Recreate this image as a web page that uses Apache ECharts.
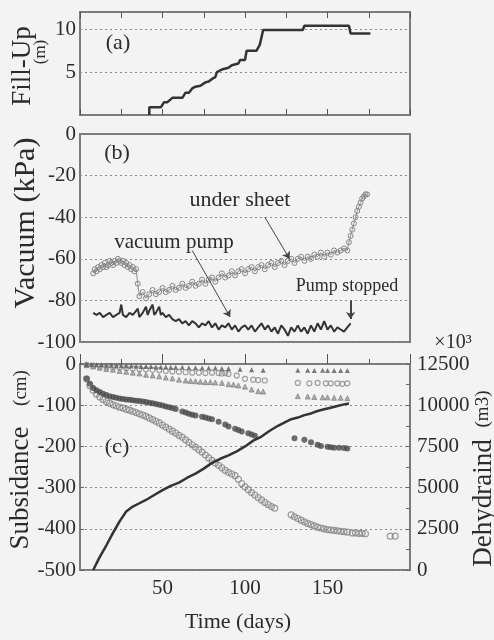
<!DOCTYPE html>
<html>
<head>
<meta charset="utf-8">
<script src="https://cdn.jsdelivr.net/npm/echarts@6/dist/echarts.min.js"></script>
<style>
  html, body { margin: 0; padding: 0; background: #f3f3f3; }
  #chart { width: 494px; height: 640px; }
</style>
</head>
<body>
<div id="chart"></div>
<script>
// (a) fill-up height, step trace [day, m]
const fillUp = [
  [42, 0], [42, 0.9], [49, 0.9], [51, 1.5], [53, 1.5], [56, 2.0], [62, 2.0], [64, 2.6],
  [66, 2.6], [68, 3.1], [70, 3.3], [73, 3.4], [76, 3.8], [78, 3.9], [80, 4.2], [82, 4.4],
  [83, 5.0], [86, 5.3], [90, 5.5], [92, 5.8], [96, 6.0], [97, 6.4], [100, 6.4], [101, 7.5],
  [107, 7.5], [109, 8.2], [111, 9.9], [135, 9.9], [136, 10.4], [163, 10.4], [164, 9.5], [176, 9.5]
];

// (b) vacuum under the sheet [day, kPa]
const underSheet = [
  [8, -67], [9, -65], [10, -66], [11, -64], [12, -65], [13, -63], [14, -64], [15, -62],
  [16, -64], [17, -63], [18, -61], [19, -62], [20, -63], [21, -61], [22, -62], [23, -60],
  [24, -61], [25, -62], [26, -61], [27, -63], [28, -62], [29, -64], [30, -63], [31, -65],
  [32, -64], [33, -66], [34, -65], [35, -72], [36, -78], [38, -76], [40, -79], [42, -77],
  [44, -75], [46, -77], [48, -76], [50, -74], [52, -76], [54, -75], [56, -73], [58, -75],
  [60, -74], [62, -72], [64, -74], [66, -73], [68, -71], [70, -73], [72, -72], [74, -70],
  [76, -72], [78, -70], [80, -69], [82, -71], [84, -69], [86, -67], [88, -69], [90, -68],
  [92, -66], [94, -68], [96, -66], [98, -65], [100, -67], [102, -65], [104, -64], [106, -66],
  [108, -64], [110, -63], [112, -65], [114, -63], [116, -62], [118, -64], [120, -62], [122, -61],
  [124, -63], [126, -61], [128, -60], [130, -62], [132, -60], [134, -59], [136, -61], [138, -59],
  [140, -60], [142, -58], [144, -59], [146, -57], [148, -59], [150, -57], [152, -58], [154, -56],
  [156, -57], [158, -56], [160, -55], [162, -56], [163, -52], [164, -49], [165, -46], [166, -43],
  [167, -40], [168, -37], [169, -35], [170, -33], [171, -31], [172, -30], [173, -29], [174, -29]
];

// (b) vacuum at the pump [day, kPa]
const vacuumPump = [
  [8, -86], [10, -87], [12, -86], [14, -88], [16, -87], [18, -86], [20, -88], [22, -87],
  [24, -86], [25, -82], [26, -87], [28, -88], [30, -86], [32, -87], [34, -85], [35, -84],
  [36, -88], [38, -86], [40, -83], [41, -87], [42, -85], [44, -82], [45, -87], [46, -86],
  [48, -83], [49, -87], [50, -86], [52, -88], [54, -87], [56, -89], [58, -90], [60, -89],
  [62, -91], [64, -90], [66, -92], [68, -90], [70, -91], [72, -93], [74, -91], [76, -92],
  [78, -90], [80, -93], [82, -91], [84, -94], [86, -92], [88, -93], [90, -91], [92, -94],
  [94, -92], [96, -95], [98, -93], [100, -92], [102, -94], [104, -92], [106, -95], [108, -93],
  [110, -91], [112, -94], [114, -92], [116, -95], [118, -93], [120, -96], [122, -92], [124, -94],
  [126, -97], [128, -93], [130, -95], [132, -92], [134, -95], [136, -93], [138, -96], [140, -92],
  [142, -95], [144, -91], [146, -94], [148, -90], [150, -94], [152, -92], [154, -95], [156, -93],
  [158, -94], [160, -95], [162, -93], [164, -91]
];

// (c) subsidence points [day, cm]
const subsDeep = [
  [4, -36], [6, -52], [8, -64], [10, -73], [12, -80], [14, -86], [16, -91], [18, -95],
  [20, -99], [22, -102], [24, -105], [26, -107], [28, -110], [30, -112], [32, -115], [34, -118],
  [36, -121], [38, -124], [40, -127], [42, -131], [44, -135], [46, -139], [48, -143], [50, -148],
  [52, -153], [54, -158], [56, -163], [58, -168], [60, -173], [62, -178], [64, -184], [66, -190],
  [68, -196], [70, -202], [72, -208], [74, -214], [76, -221], [78, -228], [80, -234], [82, -240],
  [84, -246], [86, -252], [88, -258], [90, -263], [92, -267], [94, -271], [96, -280], [98, -290],
  [100, -298], [102, -305], [104, -312], [106, -318], [108, -324], [110, -330], [112, -336], [114, -341],
  [116, -346], [118, -350], [128, -366], [130, -371], [132, -375], [134, -379], [136, -383], [138, -387],
  [140, -390], [142, -393], [144, -396], [146, -398], [148, -400], [150, -402], [152, -403], [154, -404],
  [156, -405], [158, -406], [160, -407], [162, -408], [165, -410], [167, -410], [169, -411], [171, -411],
  [173, -412], [188, -418], [191, -418]
];
const subsMid = [
  [4, -36], [6, -48], [8, -58], [10, -64], [12, -68], [14, -72], [16, -75], [18, -78],
  [20, -80], [22, -82], [24, -84], [26, -85], [28, -86], [30, -87], [32, -88], [34, -89],
  [36, -90], [38, -91], [40, -92], [42, -94], [44, -95], [46, -97], [48, -99], [50, -101],
  [52, -103], [54, -105], [56, -107], [58, -109], [62, -115], [64, -118], [66, -121], [68, -123],
  [70, -125], [74, -128], [76, -130], [78, -132], [80, -134], [84, -140], [88, -147], [90, -152],
  [94, -157], [96, -160], [98, -164], [102, -168], [104, -171], [106, -174], [130, -180], [136, -184],
  [140, -190], [144, -196], [146, -199], [150, -201], [152, -202], [154, -203], [157, -203], [160, -204],
  [162, -205]
];
const subsCircle = [
  [4, -2], [8, -4], [12, -5], [16, -7], [20, -8], [24, -9], [28, -10], [32, -11],
  [36, -12], [40, -13], [44, -14], [48, -15], [52, -17], [56, -18], [60, -19], [64, -20],
  [68, -21], [72, -21], [76, -22], [80, -21], [84, -22], [86, -23], [88, -22], [90, -24],
  [95, -28], [100, -36], [105, -38], [108, -39], [112, -40], [132, -46], [139, -47], [144, -46],
  [149, -47], [152, -47], [156, -47], [159, -48], [162, -47]
];
const subsTriLow = [
  [4, -3], [8, -6], [12, -9], [16, -12], [20, -14], [24, -17], [28, -19], [32, -21],
  [36, -23], [40, -26], [44, -28], [48, -30], [52, -33], [56, -35], [60, -38], [64, -40],
  [67, -41], [70, -42], [73, -43], [76, -44], [79, -44], [82, -45], [86, -46], [90, -49],
  [93, -50], [96, -52], [100, -55], [104, -62], [108, -66], [111, -67], [132, -78], [138, -79],
  [142, -80], [147, -81], [150, -81], [154, -82], [158, -82], [162, -83]
];
const subsTriTop = [
  [4, -1], [7, -1], [10, -2], [13, -2], [16, -3], [19, -3], [22, -4], [25, -4],
  [28, -5], [31, -5], [34, -5], [37, -6], [40, -6], [43, -6], [46, -7], [49, -7],
  [52, -7], [55, -8], [58, -8], [62, -8], [66, -9], [70, -9], [74, -10], [78, -10],
  [82, -10], [86, -11], [90, -11], [97, -13], [104, -14], [111, -15], [132, -15], [138, -15],
  [142, -16], [147, -15], [150, -16], [154, -16], [158, -16], [162, -16]
];

// (c) dehydrated water volume [day, x10^3 m3]
const dehydrated = [
  [8, 0], [12, 800], [16, 1500], [20, 2250], [24, 2950], [28, 3550], [32, 3850], [36, 4050],
  [40, 4250], [45, 4550], [50, 4850], [55, 5100], [60, 5300], [65, 5600], [70, 5850], [75, 6150],
  [80, 6500], [85, 6750], [90, 6950], [95, 7200], [100, 7500], [105, 7850], [110, 8100], [115, 8450],
  [120, 8750], [125, 9000], [128, 9150], [132, 9250], [136, 9400], [140, 9500], [144, 9650], [148, 9750],
  [152, 9850], [156, 9950], [160, 10050], [163, 10100]
];

const FONT = "Liberation Serif";
const INK = "#2b2b2b";
const BOX = "#7c7c7c";

const chart = echarts.init(document.getElementById("chart"));

const dotted = { show: true, lineStyle: { color: "#8a8a8a", width: 1, type: [2, 3] } };
const yLabel = { color: INK, fontFamily: FONT, fontSize: 21, margin: 4, formatter: (v) => String(v) };

const xBase = (grid, pos) => ({
  type: "value",
  gridIndex: grid,
  position: pos,
  min: 0,
  max: 200,
  interval: 25,
  axisLine: { show: true, lineStyle: { color: BOX, width: 2 } },
  axisTick: { show: true, inside: true, length: 6, lineStyle: { color: "#555" } },
  axisLabel: { show: false },
  splitLine: { show: false },
});

chart.setOption({
  animation: false,
  backgroundColor: "#f3f3f3",
  grid: [
    { left: 80, top: 12, width: 330, height: 103, show: true, borderColor: BOX, borderWidth: 2 },
    { left: 80, top: 134, width: 330, height: 208, show: true, borderColor: BOX, borderWidth: 2 },
    { left: 80, top: 364, width: 330, height: 206, show: true, borderColor: BOX, borderWidth: 2 },
  ],
  xAxis: [
    xBase(0, "bottom"),
    xBase(0, "top"),
    Object.assign(xBase(1, "bottom"), { axisTick: { show: false } }),
    Object.assign(xBase(2, "bottom"), {
      interval: 50,
      axisTick: { show: true, inside: true, length: 10, lineStyle: { color: "#555" } },
      minorTick: { show: true, splitNumber: 2, length: 5, lineStyle: { color: "#555" } },
      axisLabel: {
        show: true, color: INK, fontFamily: FONT, fontSize: 21, margin: 8,
        formatter: (v) => (v > 0 && v < 200 ? String(v) : ""),
      },
    }),
  ],
  yAxis: [
    {
      type: "value", gridIndex: 0, min: 0, max: 12, interval: 5,
      axisLine: { show: false }, axisTick: { show: false },
      axisLabel: Object.assign({}, yLabel, { formatter: (v) => (v === 5 || v === 10 ? String(v) : "") }),
      splitLine: dotted,
    },
    {
      type: "value", gridIndex: 1, min: -100, max: 0, interval: 20,
      axisLine: { show: false }, axisTick: { show: false },
      axisLabel: yLabel, splitLine: dotted,
    },
    {
      type: "value", gridIndex: 2, min: -500, max: 0, interval: 100,
      axisLine: { show: false },
      axisTick: { show: true, inside: true, length: 4, lineStyle: { color: "#666" } },
      axisLabel: yLabel, splitLine: dotted,
    },
    {
      type: "value", gridIndex: 2, position: "right", min: 0, max: 12500, interval: 2500,
      axisLine: { show: false },
      axisTick: { show: true, inside: true, length: 4, lineStyle: { color: "#666" } },
      minorTick: { show: true, splitNumber: 2, length: 4, lineStyle: { color: "#666" } },
      axisLabel: Object.assign({}, yLabel, { margin: 7 }),
      splitLine: { show: false },
    },
  ],
  series: [
    {
      name: "fill-up", type: "line", xAxisIndex: 0, yAxisIndex: 0, data: fillUp,
      showSymbol: false, lineStyle: { color: "#333", width: 2.5 },
    },
    {
      name: "under sheet", type: "line", xAxisIndex: 2, yAxisIndex: 1, data: underSheet,
      symbol: "circle", symbolSize: 5,
      itemStyle: { color: "transparent", borderColor: "#858585", borderWidth: 1 },
      lineStyle: { color: "#909090", width: 1 },
      markLine: {
        silent: true,
        symbol: ["none", "arrow"],
        symbolSize: 7,
        label: { show: false },
        lineStyle: { color: "#444", width: 1, type: "solid" },
        data: [[{ coord: [112, -40] }, { coord: [127, -60] }]],
      },
    },
    {
      name: "vacuum pump", type: "line", xAxisIndex: 2, yAxisIndex: 1, data: vacuumPump,
      showSymbol: false, lineStyle: { color: "#333", width: 2 },
      markLine: {
        silent: true,
        symbol: ["none", "arrow"],
        symbolSize: 7,
        label: { show: false },
        lineStyle: { color: "#444", width: 1, type: "solid" },
        data: [
          [{ coord: [68, -56] }, { coord: [91, -88] }],
          [{ coord: [164, -80], lineStyle: { width: 2 } }, { coord: [164, -89] }],
        ],
      },
    },
    {
      name: "dehydrated", type: "line", xAxisIndex: 3, yAxisIndex: 3, data: dehydrated,
      showSymbol: false, lineStyle: { color: "#333", width: 2.5 }, z: 3,
    },
    {
      name: "deep", type: "scatter", xAxisIndex: 3, yAxisIndex: 2, data: subsDeep,
      symbol: "circle", symbolSize: 6,
      itemStyle: { color: "transparent", borderColor: "#858585", borderWidth: 1.2 },
    },
    {
      name: "mid", type: "scatter", xAxisIndex: 3, yAxisIndex: 2, data: subsMid,
      symbol: "circle", symbolSize: 6, itemStyle: { color: "#4a4a4a" },
    },
    {
      name: "circle", type: "scatter", xAxisIndex: 3, yAxisIndex: 2, data: subsCircle,
      symbol: "circle", symbolSize: 5,
      itemStyle: { color: "transparent", borderColor: "#8a8a8a", borderWidth: 1.2 },
    },
    {
      name: "tri low", type: "scatter", xAxisIndex: 3, yAxisIndex: 2, data: subsTriLow,
      symbol: "triangle", symbolSize: 5,
      itemStyle: { color: "#9a9a9a", borderColor: "#777", borderWidth: 0.8 },
    },
    {
      name: "tri top", type: "scatter", xAxisIndex: 3, yAxisIndex: 2, data: subsTriTop,
      symbol: "triangle", symbolSize: 5, itemStyle: { color: "#5a5a5a" },
    },
  ],
  graphic: [
    { type: "text", x: 23, y: 66, rotation: Math.PI / 2,
      style: { text: "Fill-Up", font: "27px " + FONT, fill: INK, align: "center", verticalAlign: "middle" } },
    { type: "text", x: 41, y: 52, rotation: Math.PI / 2,
      style: { text: "(m)", font: "17px " + FONT, fill: INK, align: "center", verticalAlign: "middle" } },
    { type: "text", x: 26, y: 223, rotation: Math.PI / 2,
      style: { text: "Vacuum (kPa)", font: "30px " + FONT, fill: INK, align: "center", verticalAlign: "middle" } },
    { type: "text", x: 21, y: 488, rotation: Math.PI / 2,
      style: { text: "Subsidance", font: "27px " + FONT, fill: INK, align: "center", verticalAlign: "middle" } },
    { type: "text", x: 21, y: 388, rotation: Math.PI / 2,
      style: { text: "(cm)", font: "19px " + FONT, fill: INK, align: "center", verticalAlign: "middle" } },
    { type: "text", x: 484, y: 503, rotation: Math.PI / 2,
      style: { text: "Dehydraind", font: "27px " + FONT, fill: INK, align: "center", verticalAlign: "middle" } },
    { type: "text", x: 483, y: 409, rotation: Math.PI / 2,
      style: { text: "(m3)", font: "19px " + FONT, fill: INK, align: "center", verticalAlign: "middle" } },
    { type: "text", x: 453, y: 343,
      style: { text: "×10³", font: "20px " + FONT, fill: INK, align: "center", verticalAlign: "middle" } },
    { type: "text", x: 238, y: 622,
      style: { text: "Time (days)", font: "22px " + FONT, fill: INK, align: "center", verticalAlign: "middle" } },
    { type: "text", x: 118, y: 43,
      style: { text: "(a)", font: "22px " + FONT, fill: INK, align: "center", verticalAlign: "middle" } },
    { type: "text", x: 117, y: 153,
      style: { text: "(b)", font: "22px " + FONT, fill: INK, align: "center", verticalAlign: "middle" } },
    { type: "text", x: 117, y: 447,
      style: { text: "(c)", font: "22px " + FONT, fill: INK, align: "center", verticalAlign: "middle" } },
    { type: "text", x: 240, y: 200,
      style: { text: "under sheet", font: "22px " + FONT, fill: INK, align: "center", verticalAlign: "middle" } },
    { type: "text", x: 174, y: 242,
      style: { text: "vacuum pump", font: "21px " + FONT, fill: INK, align: "center", verticalAlign: "middle" } },
    { type: "text", x: 347, y: 286,
      style: { text: "Pump stopped", font: "18px " + FONT, fill: INK, align: "center", verticalAlign: "middle" } },
  ],
});
</script>
</body>
</html>
